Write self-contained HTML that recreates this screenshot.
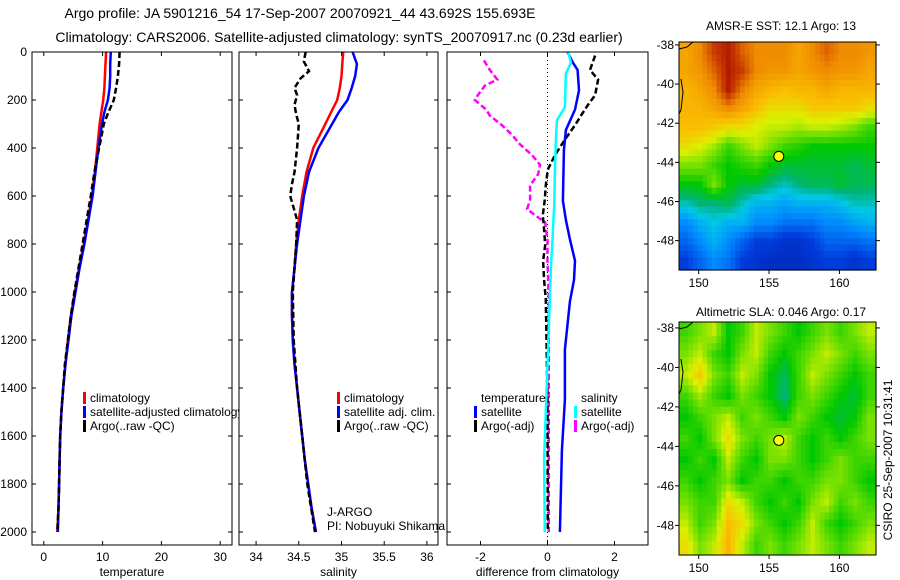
<!DOCTYPE html>
<html><head><meta charset="utf-8">
<style>
body{margin:0;background:#fff;}
svg{display:block;font-family:"Liberation Sans",sans-serif;font-size:12px;}
</style></head>
<body>
<svg id="fig" width="900" height="580" viewBox="0 0 900 580" xmlns="http://www.w3.org/2000/svg">
<text x="300" y="18" text-anchor="middle" style="font-size:14px">Argo profile: JA 5901216_54 17-Sep-2007 20070921_44 43.692S 155.693E</text>
<text x="339" y="42" text-anchor="middle" style="font-size:14px">Climatology: CARS2006. Satellite-adjusted climatology: synTS_20070917.nc (0.23d earlier)</text>
<text transform="translate(892,460) rotate(-90)" text-anchor="middle">CSIRO 25-Sep-2007 10:31:41</text>
<text x="781" y="30" text-anchor="middle">AMSR-E SST: 12.1 Argo: 13</text>
<text x="781" y="316" text-anchor="middle">Altimetric SLA: 0.046 Argo: 0.17</text>
<g id="root"></g>
</svg>
<script>
// ---- profile data ----
const depthTicks=[0,200,400,600,800,1000,1200,1400,1600,1800,2000];
const tDepth=[0,50,100,150,200,250,300,400,500,600,700,800,900,1000,1100,1200,1300,1400,1500,1600,1700,1800,1900,2000];
const tempClim=[10.6,10.5,10.4,10.3,10.1,9.8,9.5,9.1,8.7,8.2,7.5,6.8,6.0,5.3,4.6,4.1,3.7,3.3,3.0,2.8,2.7,2.6,2.5,2.3];
const tempSat=[11.4,11.3,11.3,11.2,10.9,10.3,9.9,9.3,8.8,8.3,7.6,6.9,6.1,5.4,4.7,4.2,3.7,3.3,3.0,2.8,2.7,2.6,2.5,2.4];
const tempArgo=[12.9,12.8,12.6,12.3,11.9,11.0,10.2,9.4,8.6,8.0,7.3,6.6,5.9,5.2,4.6,4.1,3.6,3.3,3.0,2.8,2.7,2.6,2.5,2.3];
const salClim=[35.02,35.01,35.0,34.98,34.95,34.88,34.81,34.67,34.59,34.54,34.5,34.47,34.45,34.42,34.42,34.43,34.45,34.48,34.51,34.54,34.57,34.61,34.65,34.7];
const salSat=[35.13,35.18,35.16,35.12,35.07,34.97,34.89,34.73,34.62,34.56,34.52,34.48,34.45,34.42,34.42,34.43,34.45,34.48,34.51,34.54,34.57,34.61,34.65,34.7];
const sDepthArgo=[0,40,80,110,150,180,220,260,300,400,500,550,600,650,700,800,900,1000,1200,1400,1600,1800,2000];
const salArgo=[34.58,34.56,34.62,34.52,34.45,34.48,34.45,34.47,34.5,34.48,34.45,34.42,34.4,34.44,34.48,34.47,34.45,34.43,34.44,34.48,34.54,34.6,34.69];
const cyanDepth=[0,45,90,230,285,365,500,640,780,900,1100,1300,1500,1700,2000];
const salSatDiff=[0.62,0.7,0.55,0.52,0.28,0.25,0.22,0.2,0.15,0.1,0.05,0.0,-0.05,-0.1,-0.08];
const blueDepth=[0,45,75,160,240,325,410,620,700,780,870,950,1040,1240,1450,1660,2000];
const tempSatDiff=[0.6,0.76,0.9,0.94,0.82,0.55,0.49,0.46,0.55,0.67,0.82,0.79,0.67,0.52,0.52,0.43,0.37];
const blackDepth=[15,75,115,180,220,265,305,365,430,490,555,615,680,740,805,870,950,1030,1450,2000];
const tempArgoDiff=[1.42,1.27,1.51,1.42,1.21,1.0,0.82,0.52,0.22,0.01,-0.05,-0.08,-0.14,-0.1,-0.07,-0.13,-0.1,-0.05,0.0,0.01];
const magDepth=[35,75,115,140,180,200,240,265,305,345,385,430,470,510,555,615,655,680,710,785,870,1030,1450,2000];
const salArgoDiff=[-1.9,-1.72,-1.5,-1.87,-2.08,-2.17,-1.83,-1.72,-1.36,-1.06,-0.82,-0.46,-0.22,-0.28,-0.52,-0.52,-0.61,-0.37,-0.07,0.0,0.0,0.04,0.04,0.04];
const tempTicks=[0,10,20,30];
const salTicks=[34,34.5,35,35.5,36];
const diffTicks=[-2,0,2];
// ---- map data (0..1 colour index) ----
const sstGrid=[
[.75,.8,.9,.95,.85,.8,.8,.8,.75,.8,.85,.8,.8,.78],
[.75,.78,.85,.95,.9,.8,.78,.78,.75,.78,.8,.78,.78,.75],
[.72,.75,.8,.95,.82,.75,.72,.7,.72,.72,.75,.72,.72,.72],
[.72,.72,.75,.8,.75,.7,.65,.65,.65,.68,.68,.68,.68,.65],
[.7,.7,.68,.65,.65,.62,.6,.6,.58,.6,.6,.58,.55,.5],
[.65,.62,.58,.5,.55,.6,.55,.5,.48,.45,.45,.45,.45,.45],
[.55,.55,.5,.45,.48,.5,.45,.42,.42,.42,.42,.42,.4,.42],
[.45,.45,.55,.45,.42,.42,.38,.35,.38,.4,.4,.42,.4,.4],
[.35,.38,.38,.4,.35,.3,.3,.28,.3,.3,.3,.32,.35,.35],
[.25,.3,.33,.3,.3,.25,.25,.22,.22,.22,.25,.25,.28,.3],
[.2,.25,.3,.25,.2,.15,.15,.12,.12,.15,.2,.2,.2,.22],
[.15,.2,.25,.22,.15,.12,.1,.1,.1,.12,.15,.15,.12,.15]];
const slaGrid=[
[.5,.55,.6,.45,.5,.6,.55,.5,.45,.5,.55,.5,.55,.6],
[.55,.6,.5,.45,.55,.6,.5,.45,.5,.55,.6,.55,.5,.55],
[.6,.68,.55,.5,.6,.55,.45,.4,.5,.6,.55,.5,.45,.5],
[.5,.58,.5,.45,.55,.5,.45,.38,.5,.55,.5,.45,.42,.5],
[.45,.5,.55,.6,.5,.55,.5,.45,.55,.5,.45,.42,.45,.55],
[.5,.45,.55,.65,.55,.5,.55,.6,.5,.45,.5,.45,.5,.55],
[.45,.5,.45,.6,.5,.45,.55,.55,.5,.45,.5,.55,.5,.5],
[.5,.45,.5,.55,.45,.5,.5,.45,.5,.5,.55,.55,.5,.45],
[.55,.5,.5,.65,.6,.5,.45,.5,.45,.55,.6,.5,.55,.5],
[.6,.5,.55,.7,.65,.55,.5,.45,.5,.6,.5,.45,.5,.55],
[.65,.55,.6,.72,.6,.5,.55,.5,.55,.6,.55,.5,.55,.6]];
const lonTicks=[150,155,160];
const latTicks=[-38,-40,-42,-44,-46,-48];
const argoLon=155.693, argoLat=-43.692;

const NS="http://www.w3.org/2000/svg";
const root=document.getElementById('root');
function mk(tag,attrs,parent){const e=document.createElementNS(NS,tag);for(const k in attrs)e.setAttribute(k,attrs[k]);(parent||root).appendChild(e);return e;}
const yD=d=>52+d*0.24;

function panel(name,x0,x1,xmin,xmax,ticks,xlabel,showY){
  const sx=v=>x0+(v-xmin)/(xmax-xmin)*(x1-x0);
  const g=mk('g',{});
  
  
  mk('rect',{x:x0,y:52,width:x1-x0,height:493,fill:'#fff',stroke:'none'},g);
  depthTicks.forEach(d=>{
    mk('line',{x1:x0,x2:x0+4,y1:yD(d),y2:yD(d),stroke:'#000'},g);
    mk('line',{x1:x1-4,x2:x1,y1:yD(d),y2:yD(d),stroke:'#000'},g);
    if(showY){const t=mk('text',{x:x0-5,y:yD(d)+4,'text-anchor':'end'},g);t.textContent=d;
      
      }
  });
  ticks.forEach(v=>{
    mk('line',{x1:sx(v),x2:sx(v),y1:545,y2:541,stroke:'#000'},g);
    mk('line',{x1:sx(v),x2:sx(v),y1:52,y2:56,stroke:'#000'},g);
    const t=mk('text',{x:sx(v),y:561,'text-anchor':'middle'},g);t.textContent=v;
    
    
  });
  const xl=mk('text',{x:(x0+x1)/2,y:576,'text-anchor':'middle'},g);xl.textContent=xlabel;
  
  
  return {g,sx,x0,x1};
}
function line(p,vals,deps,color,dash,name){
  const pts=vals.map((v,i)=>p.sx(v).toFixed(1)+','+yD(deps[i]).toFixed(1)).join(' ');
  const a={points:pts,fill:'none',stroke:color,'stroke-width':2.5};
  if(dash)a['stroke-dasharray']='6,3';
  const e=mk('polyline',a,p.g);
  
  
}
function box(p){mk('rect',{x:p.x0,y:52,width:p.x1-p.x0,height:493,fill:'none',stroke:'#000'},p.g);}
function legend(p,x,y,items){
  items.forEach((it,i)=>{
    if(it.c)mk('rect',{x:x,y:y+i*14-10,width:3,height:12,fill:it.c},p.g);
    const t=mk('text',{x:x+7,y:y+i*14},p.g);t.textContent=it.t;
    
    
  });
}
const p1=panel('temperature-panel',32,232,-2,32,tempTicks,'temperature',true);
line(p1,tempClim,tDepth,'#f00',false,'temp-climatology-line');
line(p1,tempSat,tDepth,'#00f',false,'temp-satellite-line');
line(p1,tempArgo,tDepth,'#000',true,'temp-argo-line');
legend(p1,83,402,[{c:'#f00',t:'climatology'},{c:'#00f',t:'satellite-adjusted climatology'},{c:'#000',t:'Argo(..raw -QC)'}]);
box(p1);
const p2=panel('salinity-panel',239,438,33.8,36.13,salTicks,'salinity',false);
line(p2,salClim,tDepth,'#f00',false,'sal-climatology-line');
line(p2,salSat,tDepth,'#00f',false,'sal-satellite-line');
line(p2,salArgo,sDepthArgo,'#000',true,'sal-argo-line');
legend(p2,337,402,[{c:'#f00',t:'climatology'},{c:'#00f',t:'satellite adj. clim.'},{c:'#000',t:'Argo(..raw -QC)'}]);
legend(p2,320,516,[{t:'J-ARGO'},{t:'PI: Nobuyuki Shikama'}]);
box(p2);
const p3=panel('difference-panel',447,648,-3,3,diffTicks,'difference from climatology',false);
mk('line',{x1:p3.sx(0),x2:p3.sx(0),y1:52,y2:545,stroke:'#000','stroke-dasharray':'1,3'},p3.g);
line(p3,salArgoDiff,magDepth,'#f0f',true,'sal-argo-diff-line');
line(p3,tempArgoDiff,blackDepth,'#000',true,'temp-argo-diff-line');
line(p3,tempSatDiff,blueDepth,'#00f',false,'temp-sat-diff-line');
line(p3,salSatDiff,cyanDepth,'#0ff',false,'sal-sat-diff-line');
legend(p3,474,402,[{t:'temperature'},{c:'#00f',t:'satellite'},{c:'#000',t:'Argo(-adj)'}]);
legend(p3,574,402,[{t:'salinity'},{c:'#0ff',t:'satellite'},{c:'#f0f',t:'Argo(-adj)'}]);
box(p3);

// colormap stops (rendering style)
const cmapStops=[[0,[0,20,150]],[0.15,[0,60,220]],[0.25,[0,140,255]],[0.33,[0,200,230]],[0.38,[0,180,120]],[0.45,[0,200,0]],[0.55,[120,225,0]],[0.62,[220,240,0]],[0.7,[250,190,0]],[0.8,[240,140,0]],[0.9,[200,60,0]],[1,[160,0,0]]];
function cmap(v){v=Math.max(0,Math.min(1,v));
  for(let i=1;i<cmapStops.length;i++){const [a,ca]=cmapStops[i-1],[b,cb]=cmapStops[i];
    if(v<=b){const t=(v-a)/(b-a);return `rgb(${ca.map((c,k)=>Math.round(c+(cb[k]-c)*t)).join(',')})`;}}
  return 'rgb(160,0,0)';}
function sample(grid,fy,fx){
  const R=grid.length,C=grid[0].length;
  fy=Math.max(0,Math.min(R-1,fy));fx=Math.max(0,Math.min(C-1,fx));
  const i0=Math.floor(fy),j0=Math.floor(fx),i1=Math.min(R-1,i0+1),j1=Math.min(C-1,j0+1),ty=fy-i0,tx=fx-j0;
  return grid[i0][j0]*(1-ty)*(1-tx)+grid[i0][j1]*(1-ty)*tx+grid[i1][j0]*ty*(1-tx)+grid[i1][j1]*ty*tx;}
function map(name,grid,y0,y1,latTop,latBot){
  const x0=679,x1=876,lonL=148.6,lonR=162.6;
  const sx=v=>x0+(v-lonL)/(lonR-lonL)*(x1-x0);
  const sy=v=>y0+(latTop-v)/(latTop-latBot)*(y1-y0);
  const g=mk('g',{});
  
  
  const R=grid.length,C=grid[0].length,sub=3,cols=C*sub,rows=R*sub,cw=(x1-x0)/cols,ch=(y1-y0)/rows;
  for(let i=0;i<rows;i++)for(let j=0;j<cols;j++){
    const v=sample(grid,(i+0.5)/sub-0.5,(j+0.5)/sub-0.5);
    const c=mk('rect',{x:(x0+j*cw).toFixed(2),y:(y0+i*ch).toFixed(2),width:(cw+0.6).toFixed(2),height:(ch+0.6).toFixed(2),fill:cmap(v)},g);
    
    
  }
  mk('path',{d:`M${x0} ${y0+7} L${x0+8} ${y0+5} L${x0+14} ${y0} M${x0+2} ${y0+37} L${x0+4} ${y0+50} L${x0+2} ${y0+68} L${x0} ${y0+72}`,fill:'none',stroke:'#000'},g);
  mk('rect',{x:x0,y:y0,width:x1-x0,height:y1-y0,fill:'none',stroke:'#000'},g);
  lonTicks.forEach(v=>{mk('line',{x1:sx(v),x2:sx(v),y1:y1,y2:y1+4,stroke:'#000'},g);
    const t=mk('text',{x:sx(v),y:y1+17,'text-anchor':'middle'},g);t.textContent=v;
    
    });
  latTicks.forEach(v=>{mk('line',{x1:x0-4,x2:x0,y1:sy(v),y2:sy(v),stroke:'#000'},g);
    mk('line',{x1:x1,x2:x1+4,y1:sy(v),y2:sy(v),stroke:'#000'},g);
    const t=mk('text',{x:x0-5,y:sy(v)+4,'text-anchor':'end'},g);t.textContent=v;
    
    });
  const m=mk('circle',{cx:sx(argoLon),cy:sy(argoLat),r:5,fill:'#ff0',stroke:'#000'},g);
  
  
}
map('sst-map',sstGrid,42,270,-37.85,-49.5);
map('sla-map',slaGrid,322,555,-37.7,-49.5);
</script>
</body></html>
